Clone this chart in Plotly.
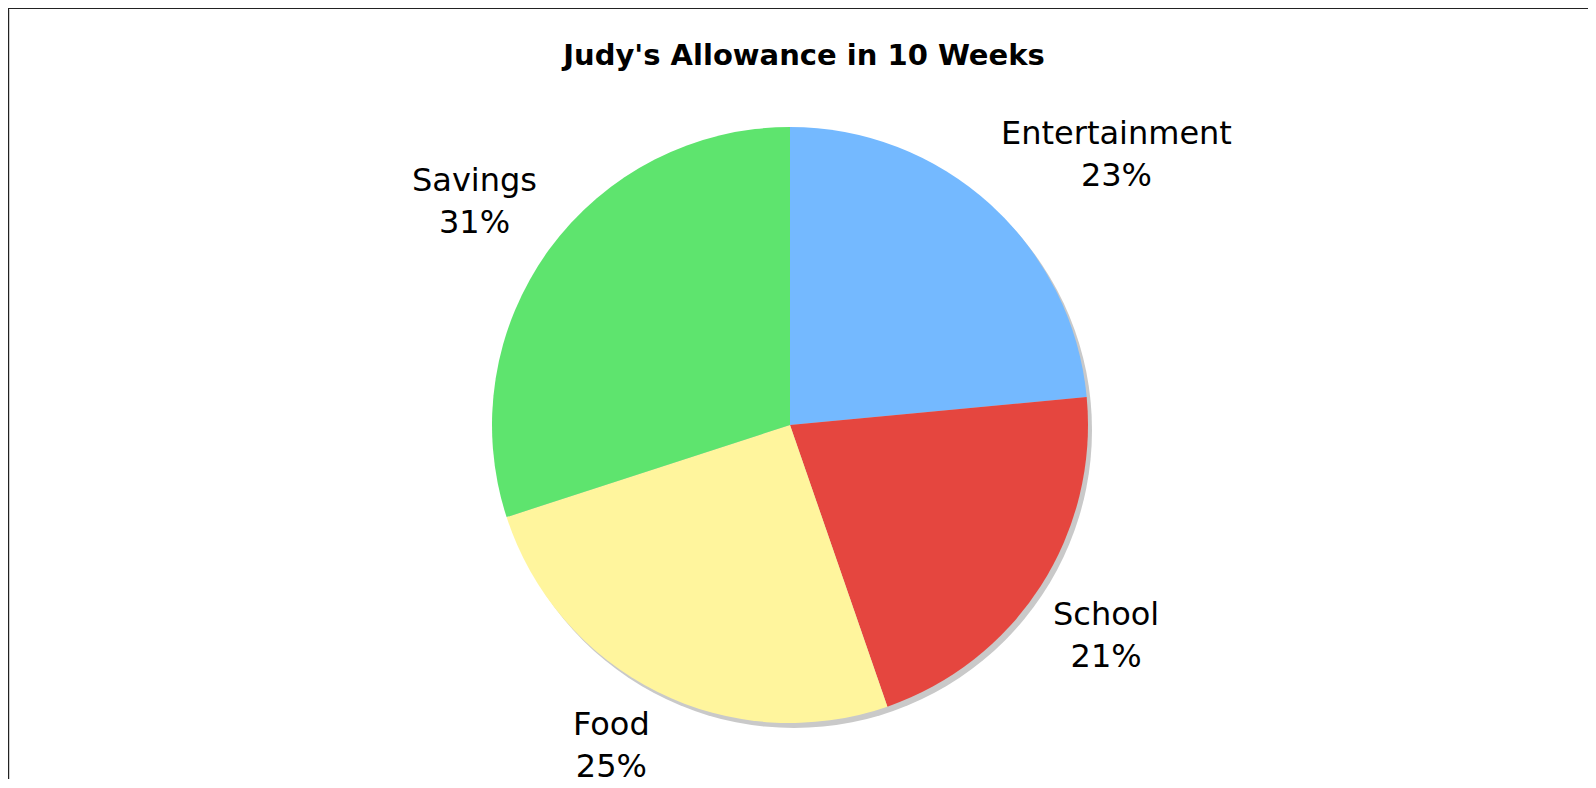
import math
import plotly.graph_objects as go

# ---- data ----
categories = ["Entertainment", "School", "Food", "Savings"]
values = [23.5, 21.2, 25.3, 30.0]
percent_labels = ["23%", "21%", "25%", "31%"]
colors = ["#74b9ff", "#e5463f", "#fff59d", "#5ee46e"]
title_text = "Judy's Allowance in 10 Weeks"

# ---- layout constants (pixels inside the figure div) ----
W, H = 1588, 771
CX, CY, R = 782, 417, 298
SHX, SHY = 4, 5
LABEL_GAP = 12
FONT = "DejaVu Sans, Verdana, sans-serif"


def dom(cx, cy, r):
    return dict(x=[(cx - r) / W, (cx + r) / W], y=[1 - (cy + r) / H, 1 - (cy - r) / H])


fig = go.Figure()

# shadow
fig.add_trace(go.Pie(
    values=[1], labels=["shadow"], marker=dict(colors=["#c9c9c9"], line=dict(width=0)),
    textinfo="none", hoverinfo="skip", sort=False, domain=dom(CX + SHX, CY + SHY, R),
    showlegend=False,
))

# pie
fig.add_trace(go.Pie(
    values=values, labels=categories, marker=dict(colors=colors, line=dict(width=0)),
    textinfo="none", sort=False, direction="clockwise", rotation=0,
    domain=dom(CX, CY, R), showlegend=False, hoverinfo="label+percent",
))

annotations = []
total = sum(values)
cum = 0.0
for cat, v, pct in zip(categories, values, percent_labels):
    mid = (cum + v / 2) / total * 2 * math.pi
    cum += v
    s, c = math.sin(mid), math.cos(mid)
    px = CX + (R + LABEL_GAP) * s
    py = CY - (R + LABEL_GAP) * c
    xa = "left" if s > 0.05 else ("right" if s < -0.05 else "center")
    ya = "bottom" if c > 0 else "top"
    annotations.append(dict(
        x=px / W, y=1 - py / H, xref="paper", yref="paper",
        xanchor=xa, yanchor=ya, align="center", showarrow=False,
        text=f"{cat}<br>{pct}", font=dict(family=FONT, size=32, color="#000000"),
    ))

fig.update_layout(
    width=W, height=H,
    margin=dict(l=0, r=0, t=0, b=0),
    paper_bgcolor="white", plot_bgcolor="white",
    title=dict(text=f"<b>{title_text}</b>", x=796 / W, y=1 - 47 / H, xref="paper", yref="paper",
               xanchor="center", yanchor="middle",
               font=dict(family=FONT, size=29, color="#000000")),
    annotations=annotations,
    shapes=[
        dict(type="line", xref="paper", yref="paper", x0=0, x1=0, y0=0, y1=1,
             line=dict(color="#222222", width=2)),
        dict(type="line", xref="paper", yref="paper", x0=0, x1=1, y0=1, y1=1,
             line=dict(color="#222222", width=2)),
        dict(type="line", xref="paper", yref="paper", x0=1.5 / W, x1=1.5 / W, y0=0, y1=1 - 1.5 / H,
             line=dict(color="#cfcfcf", width=1)),
    ],
)

fig.write_html("out.html", config={"displayModeBar": False})
